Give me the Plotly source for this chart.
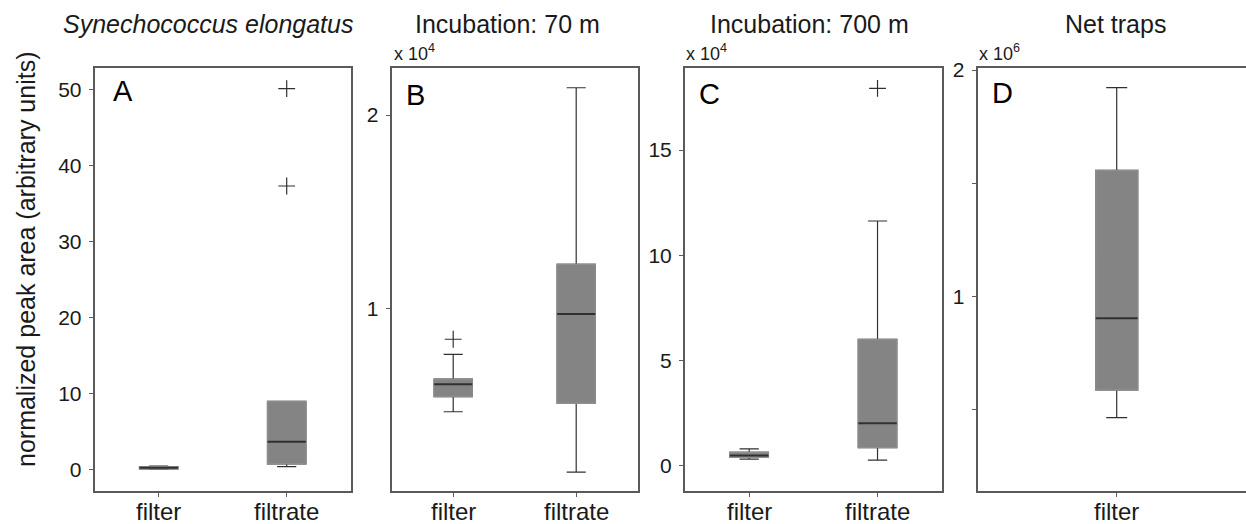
import plotly.graph_objects as go

W, H = 1246, 524

# ---------------- data ----------------
# Panel A: Synechococcus elongatus (arbitrary units)
a_cats = ["filter", "filtrate"]
a_q1 = [0.15, 0.8]
a_med = [0.3, 3.7]
a_q3 = [0.45, 9.0]
a_lo = [0.1, 0.45]
a_hi = [0.5, 9.0]
a_out_x = ["filtrate", "filtrate"]
a_out_y = [50.1, 37.3]

# Panel B: Incubation 70 m (x 1e4)
b_cats = ["filter", "filtrate"]
b_q1 = [0.543, 0.509]
b_med = [0.607, 0.971]
b_q3 = [0.634, 1.228]
b_lo = [0.465, 0.153]
b_hi = [0.762, 2.141]
b_out_x = ["filter"]
b_out_y = [0.84]

# Panel C: Incubation 700 m (x 1e4)
c_cats = ["filter", "filtrate"]
c_q1 = [0.41, 0.87]
c_med = [0.5, 2.03]
c_q3 = [0.65, 6.01]
c_lo = [0.32, 0.28]
c_hi = [0.81, 11.63]
c_out_x = ["filtrate"]
c_out_y = [17.93]

# Panel D: Net traps (x 1e6)
d_cats = ["filter"]
d_q1 = [0.587]
d_med = [0.904]
d_q3 = [1.557]
d_lo = [0.465]
d_hi = [1.922]

titles = ["<i>Synechococcus elongatus</i>", "Incubation: 70 m", "Incubation: 700 m", "Net traps"]
letters = ["A", "B", "C", "D"]
multipliers = [None, "x 10<sup>4</sup>", "x 10<sup>4</sup>", "x 10<sup>6</sup>"]
ytitle = "normalized peak area (arbitrary units)"

a_ticks = [0, 10, 20, 30, 40, 50]
b_ticks = [1, 2]
c_ticks = [0, 5, 10, 15]
d_ticks = [0.5, 1, 1.5, 2]
d_ticktext = ["", "1", "", "2"]

# ---------------- style ----------------
FONT = "Liberation Sans, Arial, sans-serif"
TXT = "#1a1a1a"
AXC = "#5a5a5a"
DARK = "#303030"
FILL = "#848484"
EDGE = "#8e8e8e"

# pixel geometry of the panels
px_x = [(94.7, 350.7), (391.7, 637.7), (685.0, 941.7), (977.7, 1246.0)]
px_y = (68.3, 491.0)
yranges = [(-2.76, 52.76), (0.055, 2.2416), (-1.19, 18.88), (0.141, 2.0075)]
xranges = [(0.5, 2.5), (0.5, 2.5), (0.5, 2.5), (0.5, 1.465)]
boxw = [0.30, 0.31, 0.30, 0.151]

panels = [
    (a_cats, a_q1, a_med, a_q3, a_lo, a_hi, a_out_x, a_out_y),
    (b_cats, b_q1, b_med, b_q3, b_lo, b_hi, b_out_x, b_out_y),
    (c_cats, c_q1, c_med, c_q3, c_lo, c_hi, c_out_x, c_out_y),
    (d_cats, d_q1, d_med, d_q3, d_lo, d_hi, [], []),
]

fig = go.Figure()
layout = dict(
    template="none",
    width=W, height=H, margin=dict(l=0, r=0, t=0, b=0, pad=0, autoexpand=False),
    paper_bgcolor="white", plot_bgcolor="white",
    showlegend=False, boxmode="overlay",
    font=dict(family=FONT, color=TXT),
)
annotations = []

for i, (cats, q1, med, q3, lo, hi, ox, oy) in enumerate(panels):
    n = i + 1
    xa = "x" if n == 1 else f"x{n}"
    ya = "y" if n == 1 else f"y{n}"
    pos = list(range(1, len(cats) + 1))
    pmap = dict(zip(cats, pos))
    w = boxw[i]
    # whiskers (dark)
    fig.add_trace(go.Box(
        x=pos, q1=q1, median=med, q3=q3, lowerfence=lo, upperfence=hi,
        width=w, whiskerwidth=0.5, boxpoints=False,
        line=dict(color=DARK, width=1.2), fillcolor="rgba(0,0,0,0)",
        xaxis=xa, yaxis=ya, hoverinfo="skip"))
    # box body (gray)
    fig.add_trace(go.Box(
        x=pos, q1=q1, median=med, q3=q3, lowerfence=q1, upperfence=q3,
        width=w, whiskerwidth=0.5, boxpoints=False,
        line=dict(color=EDGE, width=1.3), fillcolor=FILL,
        xaxis=xa, yaxis=ya, hoverinfo="skip"))
    # median lines (dark)
    for p, m in zip(pos, med):
        fig.add_trace(go.Scatter(
            x=[p - w / 2, p + w / 2], y=[m, m], mode="lines",
            line=dict(color=DARK, width=2), xaxis=xa, yaxis=ya, hoverinfo="skip"))
    # outliers
    if ox:
        fig.add_trace(go.Scatter(
            x=[pmap[c] for c in ox], y=oy, mode="markers",
            marker=dict(symbol="cross-thin-open", size=12, color=DARK,
                        line=dict(color=DARK, width=1.2)),
            xaxis=xa, yaxis=ya, hoverinfo="skip"))

    # category labels as annotations placed at the category positions
    for p, c in zip(pos, cats):
        annotations.append(dict(
            text=c, x=p, xref=xa, y=1 - 511 / H, yref="paper",
            xanchor="center", yanchor="middle", showarrow=False,
            font=dict(size=24, family=FONT, color=TXT)))

    x0, x1 = px_x[i]
    layout[f"xaxis{'' if n == 1 else n}"] = dict(
        domain=[x0 / W, x1 / W], range=list(xranges[i]),
        tickmode="array", tickvals=pos, showticklabels=False,
        ticks="outside", ticklen=4, tickcolor=AXC, tickwidth=1.2,
        showline=True, linecolor=AXC, linewidth=2, mirror=True,
        showgrid=False, zeroline=False, anchor=ya, fixedrange=True,
        automargin=False)
    if i == 0:
        tv, tt = a_ticks, [str(t) for t in a_ticks]
    elif i == 1:
        tv, tt = b_ticks, [str(t) for t in b_ticks]
    elif i == 2:
        tv, tt = c_ticks, [str(t) for t in c_ticks]
    else:
        tv, tt = d_ticks, d_ticktext
    layout[f"yaxis{'' if n == 1 else n}"] = dict(
        domain=[1 - px_y[1] / H, 1 - px_y[0] / H], range=list(yranges[i]),
        tickmode="array", tickvals=tv, ticktext=tt,
        tickfont=dict(size=21, family=FONT, color=TXT),
        ticks="outside", ticklen=4, tickcolor=AXC, tickwidth=1.2,
        showline=True, linecolor=AXC, linewidth=2, mirror=(i < 3),
        showgrid=False, zeroline=False, anchor=xa, fixedrange=True,
        ticklabelstandoff=3, automargin=False)

title_cx = [207.5, 507.0, 809.5, 1115.0]
letter_x = [111.0, 404.0, 696.5, 990.0]
letter_y = [91.0, 94.5, 94.0, 92.5]
mult_x = [None, 392.0, 684.0, 977.0]
for i in range(4):
    annotations.append(dict(
        text=titles[i], x=title_cx[i] / W, y=1 - 24 / H, xref="paper", yref="paper",
        xanchor="center", yanchor="middle", showarrow=False,
        font=dict(size=25, family=FONT, color=TXT)))
    annotations.append(dict(
        text=letters[i], x=letter_x[i] / W, y=1 - letter_y[i] / H, xref="paper", yref="paper",
        xanchor="left", yanchor="middle", showarrow=False,
        font=dict(size=29, family=FONT, color="black")))
    if multipliers[i]:
        annotations.append(dict(
            text=multipliers[i], x=mult_x[i] / W, y=1 - 52 / H, xref="paper", yref="paper",
            xanchor="left", yanchor="middle", showarrow=False,
            font=dict(size=18, family=FONT, color=TXT)))
annotations.append(dict(
    text=ytitle, x=26 / W, y=1 - 260 / H, xref="paper", yref="paper",
    xanchor="center", yanchor="middle", textangle=-90, showarrow=False,
    font=dict(size=25, family=FONT, color=TXT)))
layout["annotations"] = annotations

fig.update_layout(**layout)
fig.write_html("out.html")
